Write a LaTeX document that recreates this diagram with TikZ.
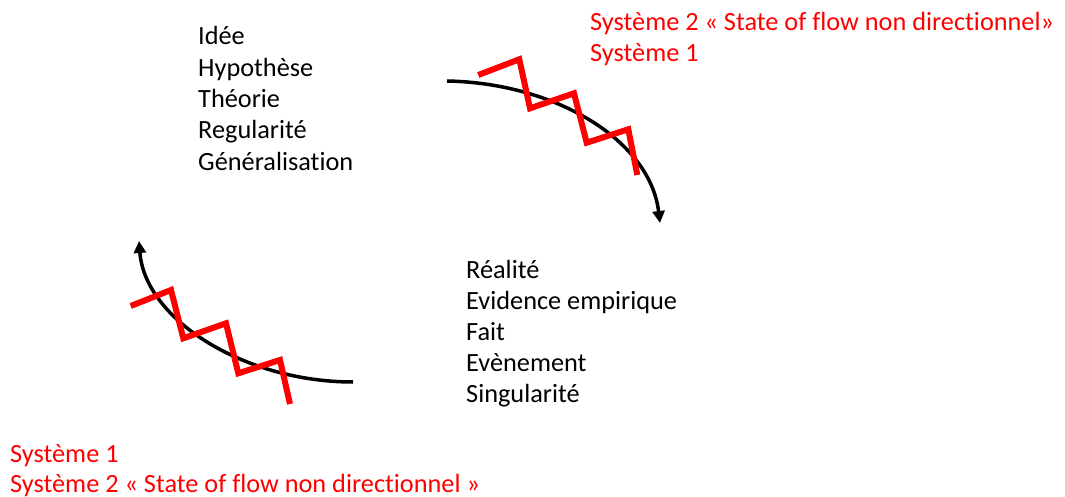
\documentclass[tikz,border=0pt]{standalone}
\usepackage{fontspec}
\setmainfont{Carlito}[Ligatures=NoCommon]
\usetikzlibrary{arrows.meta}
\definecolor{zred}{RGB}{255,0,0}
\begin{document}
\begin{tikzpicture}[x=1pt,y=-1pt,
  lbl/.style={anchor=base west,inner sep=0pt,font=\fontsize{26.3}{31}\selectfont},
  redlbl/.style={lbl,text=zred},
  flow/.style={line width=3.5pt,-{Triangle[length=12pt,width=12pt]}},
  zigzag/.style={draw=zred,line width=6pt,line join=miter}]
\useasboundingbox (0,0) rectangle (1065,497);
% top-left list
\node[lbl] (t1) at (198,45) {Idée};
\node[lbl] (t2) at (198,76.3) {Hypothèse};
\node[lbl] (t3) at (198,107.6) {Théorie};
\node[lbl] (t4) at (198,138.9) {Regularité};
\node[lbl] (t5) at (198,170.2) {Généralisation};
% right list
\node[lbl] (r1) at (466,278.3) {Réalité};
\node[lbl] (r2) at (466,309.3) {Evidence empirique};
\node[lbl] (r3) at (466,340.7) {Fait};
\node[lbl] (r4) at (466,371.7) {Evènement};
\node[lbl] (r5) at (466,402.7) {Singularité};
% red labels
\node[redlbl] (s1) at (590,31) {Système 2 « State of flow non directionnel»};
\node[redlbl] (s2) at (590,61.7) {Système 1};
\node[redlbl] (b1) at (10,462) {Système 1};
\node[redlbl] (b2) at (10,492.5) {Système 2 « State of flow non directionnel »};
% arcs
\coordinate (a1s) at (447,81);
\coordinate (a1e) at (660,223);
\draw[flow] (a1s) .. controls (555,83) and (650,140) .. (a1e);
\coordinate (a2s) at (353,382);
\coordinate (a2e) at (139,241);
\draw[flow] (a2s) .. controls (245,382) and (145,320) .. (a2e);
% zigzags
\draw[zigzag] (478.3,75) -- (519.3,59.3) -- (530,108.3) -- (574,93.3) -- (586.7,142.7) -- (628.3,129.3) -- (637.3,175);
\draw[zigzag] (130.7,306) -- (171,290) -- (183.3,338.3) -- (226,323.3) -- (238.3,373.3) -- (280,360) -- (290,404);
\end{tikzpicture}
\end{document}
